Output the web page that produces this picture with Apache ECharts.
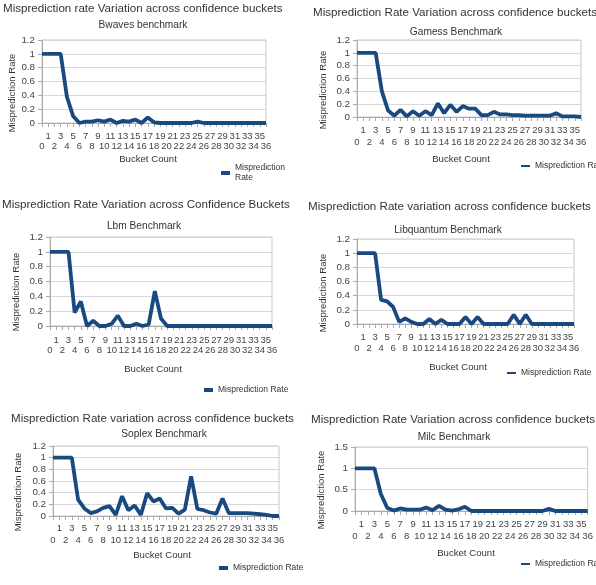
<!DOCTYPE html>
<html>
<head>
<meta charset="utf-8">
<script src="https://cdn.jsdelivr.net/npm/echarts@6/dist/echarts.min.js"></script>
<style>
html, body { margin: 0; padding: 0; background: #fff; }
#main { width: 596px; height: 585px; }
</style>
</head>
<body>
<div id="main"></div>
<script>
// bucket categories shared by all six panels
var buckets = ['0','1','2','3','4','5','6','7','8','9','10','11','12','13','14','15','16','17','18',
  '19','20','21','22','23','24','25','26','27','28','29','30','31','32','33','34','35','36'];

var bwaves = [1,1,1,1,0.38,0.1,0,0.02,0.02,0.04,0.02,0.05,0,0.03,0.02,0.05,0,0.08,0.01,
  0,0,0,0,0,0,0.02,0,0,0,0,0,0,0,0,0,0,0];
var gamess = [1,1,1,1,0.4,0.1,0.02,0.11,0.01,0.09,0.02,0.09,0.03,0.21,0.06,0.19,0.08,0.17,0.13,
  0.13,0.03,0.03,0.08,0.04,0.04,0.03,0.03,0.02,0.02,0.02,0.02,0.02,0.06,0.01,0.01,0.01,0];
var lbm = [1,1,1,1,0.18,0.33,0,0.07,0,0,0.03,0.14,0,0,0.03,0,0.02,0.47,0.1,
  0,0,0,0,0,0,0,0,0,0,0,0,0,0,0,0,0,0];
var libquantum = [1,1,1,1,0.34,0.32,0.24,0.03,0.08,0.03,0,0,0.07,0,0.06,0,0,0,0.1,
  0,0.1,0,0,0,0,0,0.13,0,0.13,0,0,0,0,0,0,0,0];
var soplex = [1,1,1,1,0.28,0.13,0.05,0.08,0.14,0.17,0.02,0.34,0.1,0.18,0.02,0.39,0.25,0.3,0.13,
  0.14,0.04,0.11,0.68,0.12,0.1,0.06,0.04,0.3,0.05,0.05,0.05,0.05,0.04,0.03,0.02,0,0];
var milc = [1,1,1,1,0.4,0.07,0.01,0.06,0.03,0.03,0.03,0.08,0.02,0.12,0.03,0.01,0.04,0.1,0,
  0,0,0,0,0,0,0,0,0,0,0,0.05,0,0,0,0,0,0];

var chartTitles = [
  'Misprediction rate Variation across confidence buckets',
  'Misprediction Rate Variation across confidence buckets',
  'Misprediction Rate Variation across Confidence Buckets',
  'Misprediction Rate variation across confidence buckets',
  'Misprediction Rate variation across confidence buckets',
  'Misprediction Rate Variation across confidence buckets'
];
var subTitles = ['Bwaves benchmark', 'Gamess Benchmark', 'Lbm Benchmark',
  'Libquantum Benchmark', 'Soplex Benchmark', 'Milc Benchmark'];
var seriesData = [bwaves, gamess, lbm, libquantum, soplex, milc];
var yMax = [1.2, 1.2, 1.2, 1.2, 1.2, 1.5];
var yStep = [0.2, 0.2, 0.2, 0.2, 0.2, 0.5];
var seriesName = 'Misprediction Rate';

// panel layout, pixels
var panels = [
  { grid: [42, 40, 224, 83],  title: [3, 9],    sub: [143, 25],  yName: [12, 93],  xName: [148, 159], rows: [136, 146], legend: [221, 173], thick: 4, wrap: true },
  { grid: [357, 40, 224, 77], title: [313, 13], sub: [456, 32],  yName: [323, 90], xName: [461, 159], rows: [130, 142], legend: [521, 166], thick: 2 },
  { grid: [50, 237, 222, 89], title: [2, 205],  sub: [144, 226], yName: [16, 292], xName: [153, 369], rows: [340, 350], legend: [204, 390], thick: 4 },
  { grid: [357, 239, 217, 85], title: [308, 207], sub: [448, 230], yName: [323, 293], xName: [458, 367], rows: [337, 348], legend: [507, 373], thick: 2 },
  { grid: [53, 446, 226, 70], title: [11, 419], sub: [164, 434], yName: [18, 492], xName: [162, 555], rows: [528, 540], legend: [219, 568], thick: 4 },
  { grid: [355, 447, 234, 64], title: [311, 420], sub: [454, 437], yName: [321, 490], xName: [466, 553], rows: [524, 536], legend: [521, 564], thick: 2 }
];

var FONT = 'Liberation Sans';
var LINE = '#184a80';
var TEXT = '#333';

var option = {
  backgroundColor: '#fff',
  animation: false,
  title: [], grid: [], xAxis: [], yAxis: [], series: [], legend: [], graphic: []
};

panels.forEach(function (p, i) {
  var axisY = p.grid[1] + p.grid[3];
  var rowGap = p.rows[1] - p.rows[0];
  option.title.push({
    text: chartTitles[i], left: p.title[0], top: p.title[1] - 7, padding: 0,
    textStyle: { fontFamily: FONT, fontSize: 11.6, fontWeight: 'normal', color: TEXT, lineHeight: 14 }
  });
  option.title.push({
    text: subTitles[i], left: p.sub[0], top: p.sub[1] - 6, padding: 0, textAlign: 'center',
    textStyle: { fontFamily: FONT, fontSize: 10.2, fontWeight: 'normal', color: TEXT, lineHeight: 12 }
  });
  option.grid.push({
    left: p.grid[0], top: p.grid[1], width: p.grid[2], height: p.grid[3],
    show: true, borderColor: '#c8c8c8', borderWidth: 1
  });
  option.xAxis.push({
    type: 'category', gridIndex: i, data: buckets, boundaryGap: false,
    axisLine: { lineStyle: { color: '#aaa' } },
    axisTick: { interval: 0, length: 4, lineStyle: { color: '#aaa' } },
    axisLabel: {
      interval: 0, hideOverlap: false, margin: p.rows[0] - axisY - rowGap / 2,
      fontFamily: FONT, fontSize: 9.5, color: '#444', lineHeight: rowGap,
      formatter: function (v, idx) { return idx % 2 ? v : '\n' + v; }
    }
  });
  option.yAxis.push({
    type: 'value', gridIndex: i, min: 0, max: yMax[i], interval: yStep[i],
    axisLine: { show: true, lineStyle: { color: '#aaa' } },
    axisTick: { show: true, length: 4, lineStyle: { color: '#aaa' } },
    splitLine: { lineStyle: { color: '#d8d8d8' } },
    axisLabel: { margin: 7, fontFamily: FONT, fontSize: 9.8, color: '#444' }
  });
  option.series.push({
    name: seriesName, type: 'line', xAxisIndex: i, yAxisIndex: i,
    data: seriesData[i], symbol: 'none', lineStyle: { color: LINE, width: 3.8 },
    itemStyle: { color: LINE }
  });
  option.legend.push({
    data: [seriesName], left: p.legend[0], top: p.legend[1] - (p.wrap ? 10 : 5), padding: 0,
    icon: 'rect', itemWidth: 9, itemHeight: p.thick,
    textStyle: { fontFamily: FONT, fontSize: 8.5, color: TEXT, lineHeight: 10 },
    formatter: p.wrap ? 'Misprediction\nRate' : '{name}'
  });
  option.graphic.push({
    type: 'text', x: p.yName[0], y: p.yName[1], rotation: Math.PI / 2,
    style: { text: 'Misprediction Rate', fontFamily: FONT, fontSize: 9.5, fill: TEXT, align: 'center', verticalAlign: 'middle' }
  });
  option.graphic.push({
    type: 'text', x: p.xName[0], y: p.xName[1],
    style: { text: 'Bucket Count', fontFamily: FONT, fontSize: 9.6, fill: TEXT, align: 'center', verticalAlign: 'middle' }
  });
});

var chart = echarts.init(document.getElementById('main'));
chart.setOption(option);
</script>
</body>
</html>
